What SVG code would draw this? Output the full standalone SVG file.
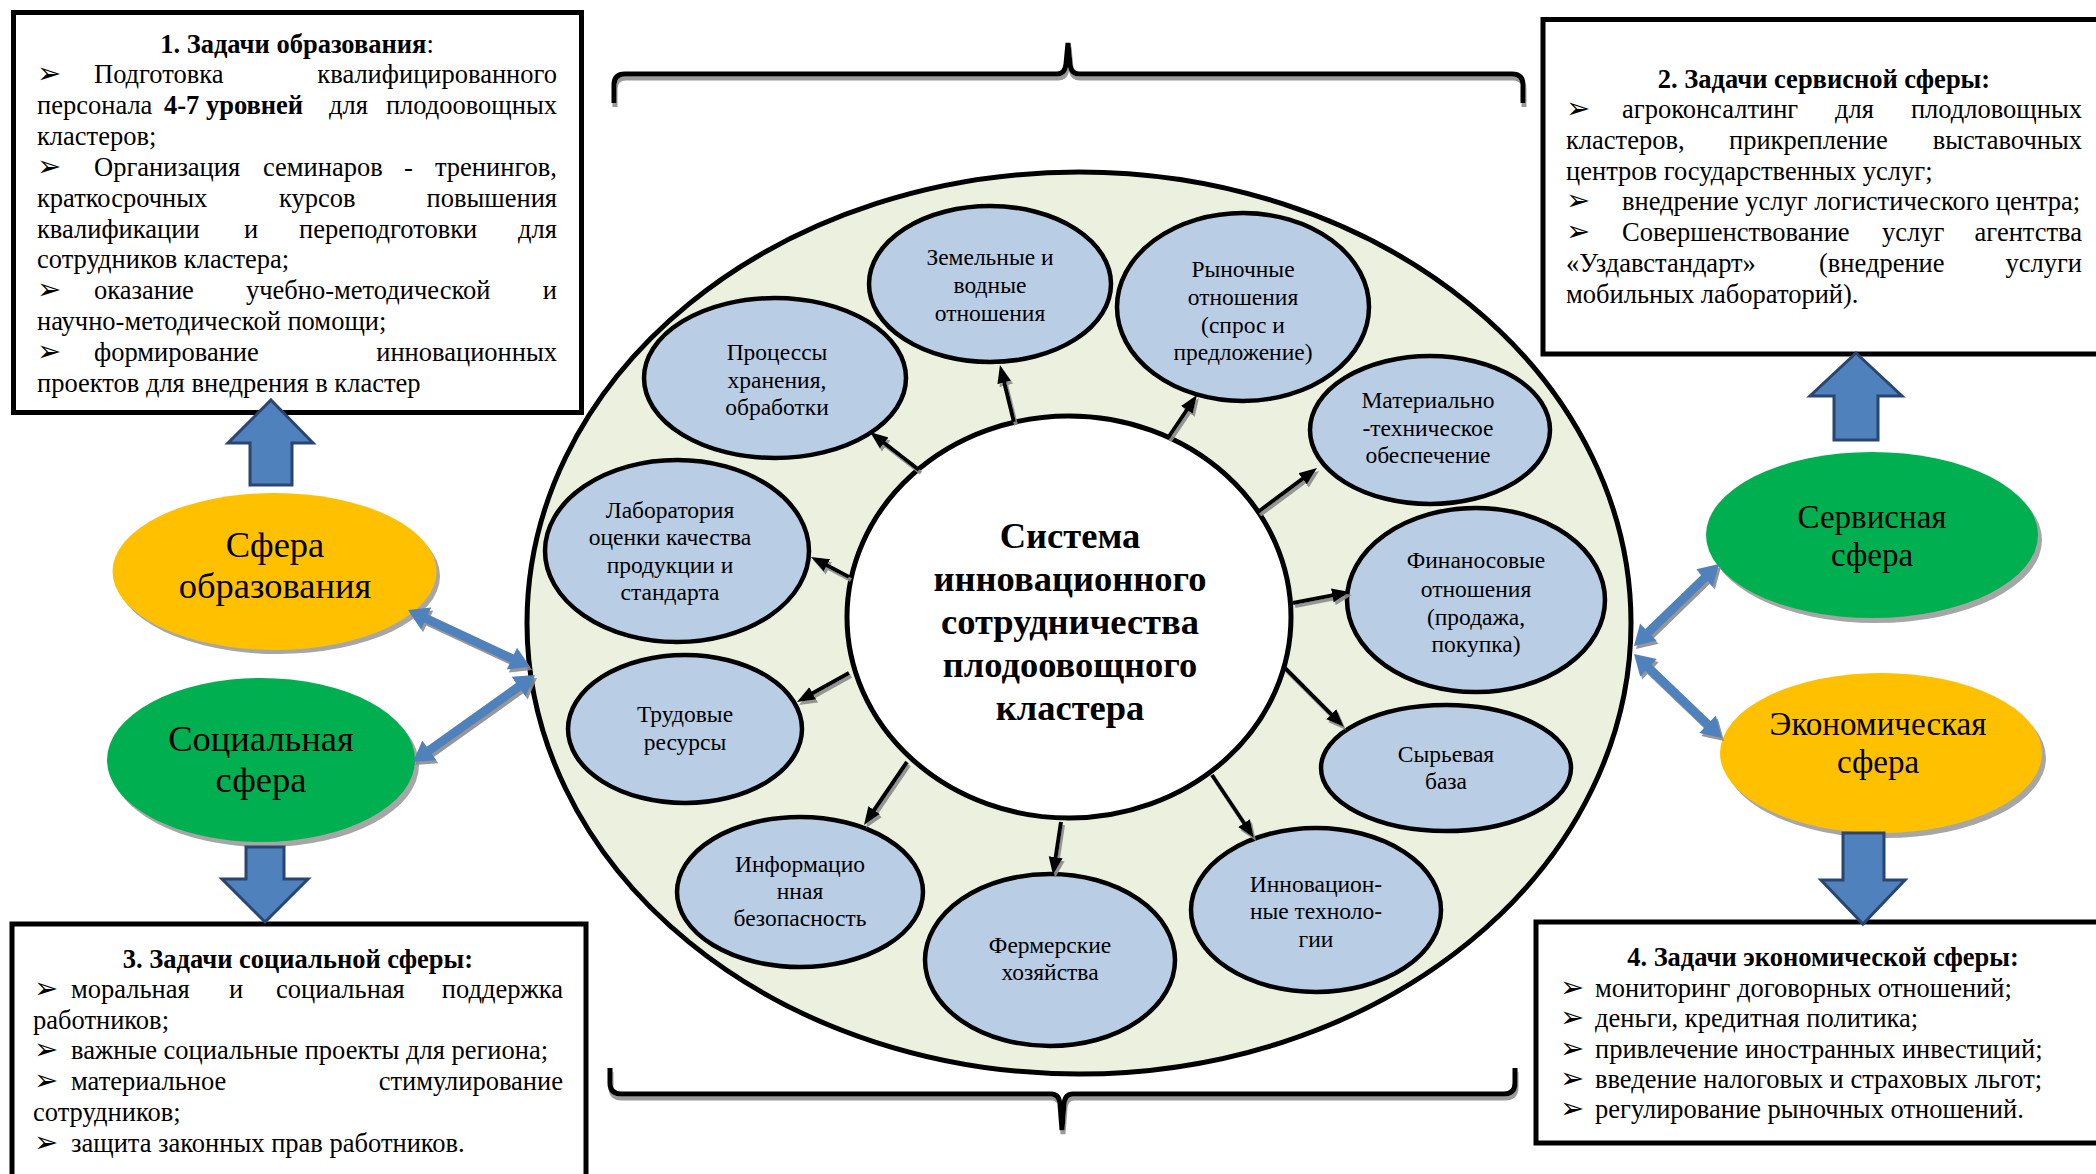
<svg xmlns="http://www.w3.org/2000/svg" width="2096" height="1174" viewBox="0 0 2096 1174">
<defs>
<style>
.t{font-family:"Liberation Serif","Times New Roman",serif;font-size:26.5px;fill:#000}
.b{font-weight:bold}
.e{text-anchor:end}
.m{text-anchor:middle}
.bl{font-family:"DejaVu Sans",sans-serif;font-size:29px;fill:#000}
.box{fill:#fff;stroke:#000;stroke-width:5}
.se{font-family:"Liberation Serif","Times New Roman",serif;font-size:23.5px;text-anchor:middle;fill:#000}
.sm{fill:#B9CDE5;stroke:#000;stroke-width:4.5}
.lab{font-family:"Liberation Serif","Times New Roman",serif;font-size:36.5px;text-anchor:middle;fill:#000}
.lab2{font-family:"Liberation Serif","Times New Roman",serif;font-size:33px;text-anchor:middle;fill:#000}
.ctr{font-family:"Liberation Serif","Times New Roman",serif;font-size:36.5px;font-weight:bold;text-anchor:middle;fill:#000}
.ar{stroke:#000;stroke-width:4;fill:none;marker-end:url(#ah)}
.blk{fill:#4F81BD;stroke:#2A4670;stroke-width:3}
.dbl{fill:#4F81BD;filter:url(#ds)}
.brace{fill:none;stroke:#000;stroke-width:5;filter:url(#ds2)}
.shd{fill:#A6A6A6}
</style>
<marker id="ah" markerUnits="userSpaceOnUse" markerWidth="20" markerHeight="16" refX="12" refY="8" orient="auto"><path d="M0,1 L18,8 L0,15 Z" fill="#000"/></marker>
<filter id="ds" x="-20%" y="-20%" width="140%" height="140%"><feDropShadow dx="2" dy="3" stdDeviation="0.7" flood-color="#8C8C8C" flood-opacity="0.9"/></filter>
<filter id="ds2" x="-5%" y="-30%" width="110%" height="160%"><feDropShadow dx="1" dy="4" stdDeviation="0.6" flood-color="#909090" flood-opacity="0.9"/></filter>
</defs>
<rect width="2096" height="1174" fill="#fff"/>

<!-- Box 1 -->
<g id="box-education">
<rect class="box" x="13.5" y="12.5" width="568" height="400"/>
<text class="t b m" x="297" y="53">1. Задачи образования<tspan font-weight="normal">:</tspan></text>
<text class="bl" x="37" y="83">➢</text><text class="t" x="94" y="83">Подготовка</text><text class="t e" x="557" y="83">квалифицированного</text>
<text class="t" x="37" y="113.9">персонала</text><text class="t b" x="164" y="113.9">4-7 уровней</text><text class="t" x="329" y="113.9">для</text><text class="t e" x="557" y="113.9">плодоовощных</text>
<text class="t" x="37" y="144.8">кластеров;</text>
<text class="bl" x="37" y="175.7">➢</text><text class="t" x="94" y="175.7">Организация</text><text class="t" x="263" y="175.7">семинаров</text><text class="t" x="404" y="175.7">-</text><text class="t e" x="557" y="175.7">тренингов,</text>
<text class="t" x="37" y="206.6">краткосрочных</text><text class="t" x="279" y="206.6">курсов</text><text class="t e" x="557" y="206.6">повышения</text>
<text class="t" x="37" y="237.5">квалификации</text><text class="t" x="244" y="237.5">и</text><text class="t" x="299" y="237.5">переподготовки</text><text class="t e" x="557" y="237.5">для</text>
<text class="t" x="37" y="268.4">сотрудников кластера;</text>
<text class="bl" x="37" y="299.3">➢</text><text class="t" x="94" y="299.3">оказание</text><text class="t" x="246" y="299.3">учебно-методической</text><text class="t e" x="557" y="299.3">и</text>
<text class="t" x="37" y="330.2">научно-методической помощи;</text>
<text class="bl" x="37" y="361.1">➢</text><text class="t" x="94" y="361.1">формирование</text><text class="t e" x="557" y="361.1">инновационных</text>
<text class="t" x="37" y="392">проектов для внедрения в кластер</text>
</g>

<!-- Box 2 -->
<g id="box-service">
<rect class="box" x="1543" y="19.5" width="600" height="334.5"/>
<text class="t b m" x="1824" y="88">2. Задачи сервисной сферы:</text>
<text class="bl" x="1566" y="118">➢</text><text class="t" x="1622" y="118">агроконсалтинг</text><text class="t" x="1835" y="118">для</text><text class="t e" x="2082" y="118">плодловощных</text>
<text class="t" x="1566" y="148.8">кластеров,</text><text class="t" x="1729" y="148.8">прикрепление</text><text class="t e" x="2082" y="148.8">выставочных</text>
<text class="t" x="1566" y="179.6">центров государственных услуг;</text>
<text class="bl" x="1566" y="210.4">➢</text><text class="t" x="1622" y="210.4">внедрение услуг логистического центра;</text>
<text class="bl" x="1566" y="241.2">➢</text><text class="t" x="1622" y="241.2">Совершенствование</text><text class="t" x="1882" y="241.2">услуг</text><text class="t e" x="2082" y="241.2">агентства</text>
<text class="t" x="1566" y="272">«Уздавстандарт»</text><text class="t" x="1819" y="272">(внедрение</text><text class="t e" x="2082" y="272">услуги</text>
<text class="t" x="1566" y="302.8">мобильных лабораторий).</text>
</g>

<!-- Box 3 -->
<g id="box-social">
<rect class="box" x="12" y="924" width="574" height="300"/>
<text class="t b m" x="298" y="968">3. Задачи социальной сферы:</text>
<text class="bl" x="34" y="998">➢</text><text class="t" x="71" y="998">моральная</text><text class="t" x="229" y="998">и</text><text class="t" x="276" y="998">социальная</text><text class="t e" x="563" y="998">поддержка</text>
<text class="t" x="33" y="1028.7">работников;</text>
<text class="bl" x="34" y="1059.4">➢</text><text class="t" x="71" y="1059.4">важные социальные проекты для региона;</text>
<text class="bl" x="34" y="1090.1">➢</text><text class="t" x="71" y="1090.1">материальное</text><text class="t e" x="563" y="1090.1">стимулирование</text>
<text class="t" x="33" y="1120.8">сотрудников;</text>
<text class="bl" x="34" y="1151.5">➢</text><text class="t" x="71" y="1151.5">защита законных прав работников.</text>
</g>

<!-- Box 4 -->
<g id="box-economic">
<rect class="box" x="1536" y="922" width="600" height="221"/>
<text class="t b m" x="1823" y="966">4. Задачи экономической сферы:</text>
<text class="bl" x="1560" y="997">➢</text><text class="t" x="1595" y="997">мониторинг договорных отношений;</text>
<text class="bl" x="1560" y="1027.3">➢</text><text class="t" x="1595" y="1027.3">деньги, кредитная политика;</text>
<text class="bl" x="1560" y="1057.6">➢</text><text class="t" x="1595" y="1057.6">привлечение иностранных инвестиций;</text>
<text class="bl" x="1560" y="1087.9">➢</text><text class="t" x="1595" y="1087.9">введение налоговых и страховых льгот;</text>
<text class="bl" x="1560" y="1118.2">➢</text><text class="t" x="1595" y="1118.2">регулирование рыночных отношений.</text>
</g>

<!-- Braces -->
<g id="braces">
<path class="brace" d="M614,103 L614,85 Q614,74 625,74 L1057,74 Q1065,74 1066,64 L1068,43 L1070,64 Q1071,74 1079,74 L1512,74 Q1523,74 1523,85 L1523,103"/>
<path class="brace" d="M610,1068 L610,1083 Q610,1094 621,1094 L1051,1094 Q1059,1094 1060,1104 L1062,1130 L1064,1104 Q1065,1094 1073,1094 L1504,1094 Q1515,1094 1515,1083 L1515,1068"/>
</g>

<!-- Big ellipse -->
<g id="cluster-ring">
<ellipse cx="1079" cy="623" rx="552" ry="451" fill="#EBF1DE" stroke="#000" stroke-width="5"/>
</g>

<!-- Sphere nodes -->
<g id="sphere-education">
<ellipse class="shd" cx="278" cy="576" rx="162" ry="78"/>
<ellipse cx="274.5" cy="571.5" rx="162" ry="78.5" fill="#FFC000"/>
<text class="lab" x="275" y="557">Сфера</text>
<text class="lab" x="275" y="598">образования</text>
</g>
<g id="sphere-social">
<ellipse class="shd" cx="265" cy="765" rx="154" ry="82"/>
<ellipse cx="261" cy="760" rx="154" ry="82" fill="#00B050"/>
<text class="lab" x="261" y="751">Социальная</text>
<text class="lab" x="261" y="792">сфера</text>
</g>
<g id="sphere-service">
<ellipse class="shd" cx="1876" cy="540" rx="166" ry="83"/>
<ellipse cx="1872" cy="535" rx="166" ry="83" fill="#00B050"/>
<text class="lab2" x="1872" y="528">Сервисная</text>
<text class="lab2" x="1872" y="566">сфера</text>
</g>
<g id="sphere-economic">
<ellipse class="shd" cx="1885" cy="758" rx="161" ry="80"/>
<ellipse cx="1881" cy="753" rx="161" ry="80" fill="#FFC000"/>
<text class="lab2" x="1878" y="735">Экономическая</text>
<text class="lab2" x="1878" y="773">сфера</text>
</g>

<!-- Small ellipses -->
<g id="n-land"><ellipse class="sm" cx="990" cy="284" rx="121" ry="78"/>
<text class="se" x="990" y="265">Земельные и</text><text class="se" x="990" y="293">водные</text><text class="se" x="990" y="321">отношения</text></g>
<g id="n-market"><ellipse class="sm" cx="1243" cy="307" rx="126" ry="94"/>
<text class="se" x="1243" y="277">Рыночные</text><text class="se" x="1243" y="305">отношения</text><text class="se" x="1243" y="333">(спрос и</text><text class="se" x="1243" y="360">предложение)</text></g>
<g id="n-material"><ellipse class="sm" cx="1430" cy="430" rx="120" ry="74"/>
<text class="se" x="1428" y="408">Материально</text><text class="se" x="1428" y="436">-техническое</text><text class="se" x="1428" y="463">обеспечение</text></g>
<g id="n-finance"><ellipse class="sm" cx="1476" cy="600" rx="129" ry="92"/>
<text class="se" x="1476" y="568">Финаносовые</text><text class="se" x="1476" y="597">отношения</text><text class="se" x="1476" y="625">(продажа,</text><text class="se" x="1476" y="652">покупка)</text></g>
<g id="n-raw"><ellipse class="sm" cx="1446" cy="768" rx="125" ry="63"/>
<text class="se" x="1446" y="762">Сырьевая</text><text class="se" x="1446" y="789">база</text></g>
<g id="n-innov"><ellipse class="sm" cx="1316" cy="910" rx="125" ry="82"/>
<text class="se" x="1316" y="892">Инновацион-</text><text class="se" x="1316" y="919">ные техноло-</text><text class="se" x="1316" y="947">гии</text></g>
<g id="n-farm"><ellipse class="sm" cx="1050" cy="960" rx="125" ry="86"/>
<text class="se" x="1050" y="953">Фермерские</text><text class="se" x="1050" y="980">хозяйства</text></g>
<g id="n-info"><ellipse class="sm" cx="800" cy="892" rx="123" ry="75"/>
<text class="se" x="800" y="872">Информацио</text><text class="se" x="800" y="899">нная</text><text class="se" x="800" y="926">безопасность</text></g>
<g id="n-labor"><ellipse class="sm" cx="685" cy="729" rx="117" ry="74"/>
<text class="se" x="685" y="722">Трудовые</text><text class="se" x="685" y="750">ресурсы</text></g>
<g id="n-lab"><ellipse class="sm" cx="677" cy="551" rx="132" ry="91"/>
<text class="se" x="670" y="518">Лаборатория</text><text class="se" x="670" y="545">оценки качества</text><text class="se" x="670" y="573">продукции и</text><text class="se" x="670" y="600">стандарта</text></g>
<g id="n-process"><ellipse class="sm" cx="775" cy="378" rx="131" ry="80"/>
<text class="se" x="777" y="360">Процессы</text><text class="se" x="777" y="388">хранения,</text><text class="se" x="777" y="415">обработки</text></g>

<!-- Center -->
<g id="center">
<ellipse cx="1069" cy="617" rx="222" ry="201" fill="#fff" stroke="#000" stroke-width="5"/>
<text class="ctr" x="1070" y="548">Система</text>
<text class="ctr" x="1070" y="591">инновационного</text>
<text class="ctr" x="1070" y="634">сотрудничества</text>
<text class="ctr" x="1070" y="677">плодоовощного</text>
<text class="ctr" x="1070" y="720">кластера</text>
</g>

<!-- Connectors -->
<g id="connectors">
<g filter="url(#ds)">
<line class="ar" x1="919" y1="470" x2="874.7" y2="435.7"/>
<line class="ar" x1="1014" y1="422" x2="1001.4" y2="370.8"/>
<line class="ar" x1="1168" y1="438" x2="1193.6" y2="400"/>
<line class="ar" x1="1258" y1="512" x2="1312.2" y2="471.6"/>
<line class="ar" x1="1293" y1="603" x2="1344.1" y2="593.1"/>
<line class="ar" x1="1285" y1="668" x2="1339.8" y2="722.8"/>
<line class="ar" x1="1212" y1="775" x2="1250.7" y2="833"/>
<line class="ar" x1="1061" y1="822" x2="1053.9" y2="869.1"/>
<line class="ar" x1="907" y1="762" x2="867.4" y2="820"/>
<line class="ar" x1="849" y1="673" x2="802.2" y2="699.1"/>
<line class="ar" x1="849" y1="577" x2="816.3" y2="559.8"/>
</g>
<polygon class="dbl" points="408,610 421,629.3 424.2,622.5 510,662.6 506.8,669.4 530,667 517,647.7 513.8,654.5 428,614.4 431.2,607.6"/>
<polygon class="dbl" points="413,762 436.3,760.2 431.9,754.1 521.3,690.3 525.7,696.4 535,675 511.8,676.8 516.1,683 426.7,746.7 422.3,740.6"/>
<polygon class="dbl" points="1634,646 1656.7,640.8 1651.5,635.4 1707.7,581.1 1712.9,586.5 1719,564 1696.3,569.3 1701.5,574.7 1645.3,628.9 1640.1,623.5"/>
<polygon class="dbl" points="1634,654 1640.2,676.5 1645.4,671.1 1704.4,727.4 1699.3,732.9 1722,738 1715.8,715.5 1710.6,720.9 1651.6,664.6 1656.8,659.1"/>
<path class="blk" d="M271,400 L313,443 L292,443 L292,485 L250,485 L250,443 L228,443 Z"/>
<path class="blk" d="M265,922 L308,879 L284,879 L284,847 L246,847 L246,879 L222,879 Z"/>
<path class="blk" d="M1856,353 L1902,396 L1878,396 L1878,440 L1834,440 L1834,396 L1810,396 Z"/>
<path class="blk" d="M1863,924 L1905,880 L1884,880 L1884,833 L1843,833 L1843,880 L1821,880 Z"/>
</g>
</svg>
